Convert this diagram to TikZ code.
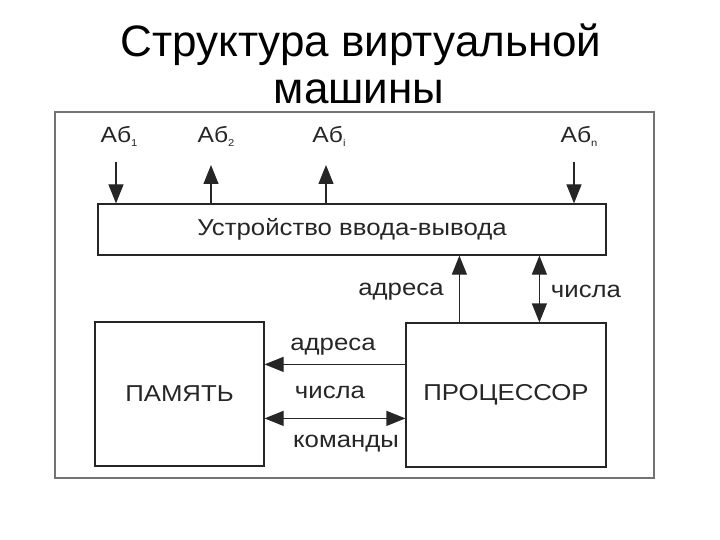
\documentclass[tikz,border=0pt]{standalone}
\usepackage{fontspec}
\setmainfont{Liberation Sans}
\newfontfamily\diagfont[FakeStretch=1.12]{Liberation Sans}
\usetikzlibrary{arrows.meta}
\newcommand\idx[1]{\raisebox{-4pt}{\fontsize{10}{10}\selectfont #1}}
\begin{document}
\begin{tikzpicture}[x=1pt, y=-1pt,
  main node/.style={draw=black!85, line width=1.2pt, inner sep=0pt, text=black!85, font=\diagfont\fontsize{23}{26}\selectfont},
  sig node/.style={inner sep=0pt, anchor=base, text=black!85, font=\diagfont\fontsize{22}{24}\selectfont},
  lbl node/.style={inner sep=0pt, anchor=base, text=black!85, font=\diagfont\fontsize{23}{26}\selectfont},
  head node/.style={inner sep=0pt, anchor=base, font=\fontsize{44}{47}\selectfont},
  tip/.style={line width=1.2pt, draw=black!85, -{Triangle[length=19pt,width=15pt]}},
  both tip/.style={tip, {Triangle[length=19pt,width=15pt]}-{Triangle[length=19pt,width=15pt]}}]
\useasboundingbox (0,0) rectangle (720,540);
\node[head node] (title) at (361,57) {Структура виртуальной};
\node[head node] (title2) at (359,104) {машины};
\node[draw=black!55, line width=1.5pt, minimum width=599pt, minimum height=366pt] (frame) at (354.5,295) {};
\node[main node, minimum width=508pt, minimum height=51pt] (io)  at (352,229.5) {Устройство ввода-вывода};
\node[main node, minimum width=169pt, minimum height=144pt] (mem) at (179.5,394) {ПАМЯТЬ};
\node[main node, minimum width=200pt, minimum height=144pt] (cpu) at (506,395) {ПРОЦЕССОР};
\node[sig node] (ab1) at (119,143) {Аб\idx{1}};
\node[sig node] (ab2) at (216,143) {Аб\idx{2}};
\node[sig node] (abi) at (329,143) {Аб\idx{i}};
\node[sig node] (abn) at (579,143) {Аб\idx{n}};
\coordinate (s1) at (116,162);
\coordinate (s2) at (211,165);
\coordinate (si) at (326,165);
\coordinate (sn) at (574,162);
\draw[tip] (s1) -- (s1 |- io.north);
\draw[tip] (s2 |- io.north) -- (s2);
\draw[tip] (si |- io.north) -- (si);
\draw[tip] (sn) -- (sn |- io.north);
\coordinate (va) at ([xshift=54pt]cpu.north west);
\coordinate (vc) at ([xshift=134pt]cpu.north west);
\coordinate (ha) at ([yshift=-42pt]cpu.north west);
\coordinate (hc) at ([yshift=-96pt]cpu.north west);
\draw[tip] (va) -- (va |- io.south);
\draw[both tip] (vc) -- (vc |- io.south);
\draw[tip] (ha) -- (ha -| mem.east);
\draw[both tip] (hc -| mem.east) -- (hc);
\node[lbl node] (adr1) at (401,295) {адреса};
\node[lbl node] (num1) at (586,297) {числа};
\node[lbl node] (adr2) at (333,350) {адреса};
\node[lbl node] (num2) at (330,398) {числа};
\node[lbl node] (cmd)  at (346,447) {команды};
\end{tikzpicture}
\end{document}
